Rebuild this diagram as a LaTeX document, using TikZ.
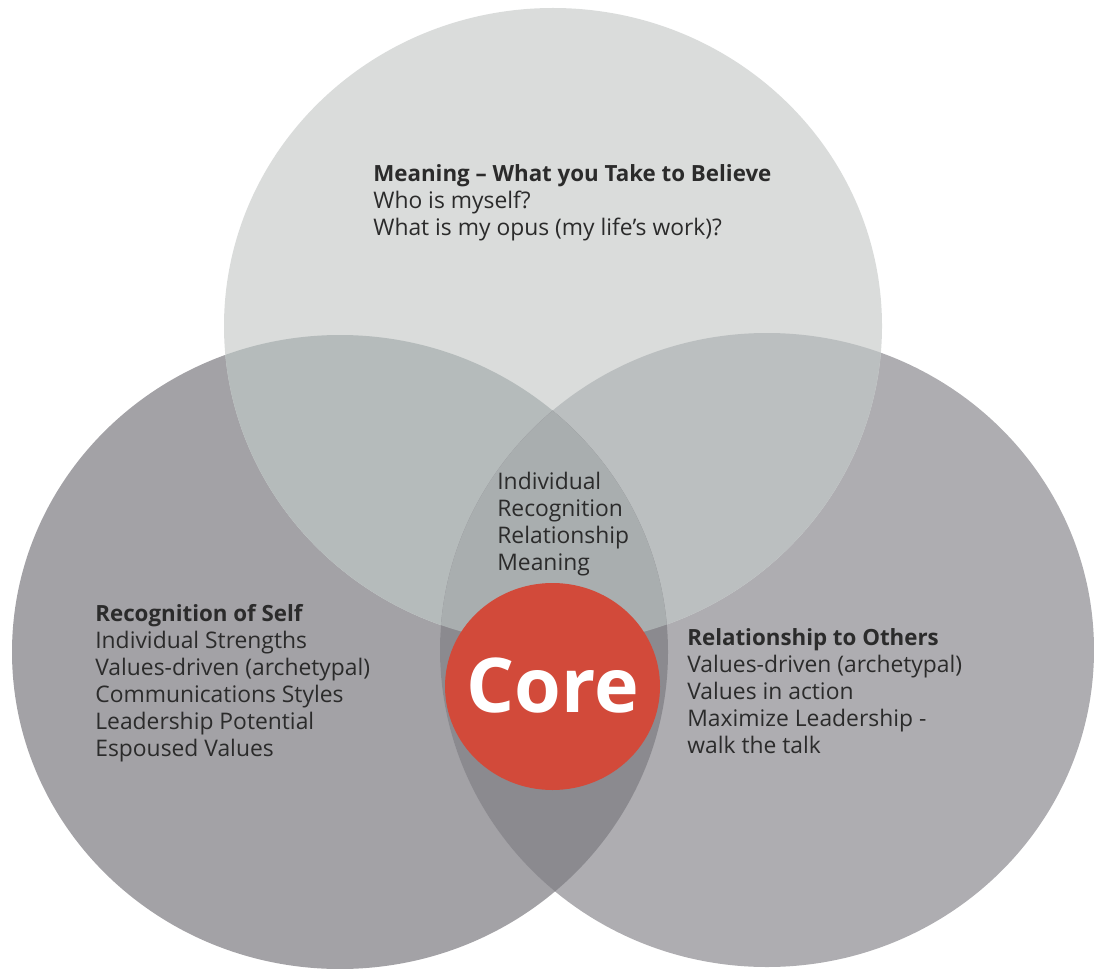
\documentclass[tikz,border=0pt]{standalone}
\usepackage{fontspec}
\setmainfont{Open Sans}
\definecolor{ctop}{HTML}{DADCDB}
\definecolor{cleft}{HTML}{A3A2A6}
\definecolor{cright}{HTML}{AEADB1}
\definecolor{ctl}{HTML}{B5BBBB}
\definecolor{ctr}{HTML}{BBBFC0}
\definecolor{clr}{HTML}{8B8A8F}
\definecolor{call}{HTML}{A9AEAF}
\definecolor{cred}{HTML}{D24A3A}
\definecolor{txt}{HTML}{2B2B2B}
\tikzset{
  lbl/.style={anchor=base west, inner sep=0pt, text=txt, font=\fontsize{13}{15}\selectfont},
  hd/.style={lbl, font=\fontsize{12.7}{15}\selectfont\bfseries},
  topE/.style={insert path={(553,326) ellipse [x radius=329, y radius=318]}},
  leftE/.style={insert path={(340,652) ellipse [x radius=328, y radius=317]}},
  rightE/.style={insert path={(767,650) ellipse [x radius=327, y radius=317]}}
}
\begin{document}
\begin{tikzpicture}[x=0.02cm,y=-0.02cm]
\useasboundingbox (0,0) rectangle (1094,969);
% circles
\fill[cleft] [leftE];
\fill[cright] [rightE];
\fill[ctop] [topE];
% pairwise overlaps
\begin{scope}
  \clip [topE];
  \fill[ctl] [leftE];
  \fill[ctr] [rightE];
\end{scope}
\begin{scope}
  \clip [leftE];
  \fill[clr] [rightE];
\end{scope}
% triple overlap
\begin{scope}
  \clip [topE];
  \clip [leftE];
  \fill[call] [rightE];
\end{scope}
% core
\fill[cred] (552.5,686.5) ellipse [x radius=107.5, y radius=103.5];
\node[anchor=base, inner sep=0pt, text=white, font=\fontsize{43}{43}\selectfont\bfseries] (core) at (553,712) {Core};
% top text
\node[hd] (m1) at (373,182) {Meaning – What you Take to Believe};
\node[lbl] (m2) at (373,209) {Who is myself?};
\node[lbl] (m3) at (373,236) {What is my opus (my life’s work)?};
% center text
\node[lbl] (c1) at (497,489) {Individual};
\node[lbl] (c2) at (497,516) {Recognition};
\node[lbl] (c3) at (497,543) {Relationship};
\node[lbl] (c4) at (497,570) {Meaning};
% left text
\node[hd] (l1) at (95,621) {Recognition of Self};
\node[lbl] (l2) at (95,648) {Individual Strengths};
\node[lbl] (l3) at (95,675) {Values-driven (archetypal)};
\node[lbl] (l4) at (95,702) {Communications Styles};
\node[lbl] (l5) at (95,729) {Leadership Potential};
\node[lbl] (l6) at (95,756) {Espoused Values};
% right text
\node[hd] (r1) at (687,645) {Relationship to Others};
\node[lbl] (r2) at (687,672) {Values-driven (archetypal)};
\node[lbl] (r3) at (687,699) {Values in action};
\node[lbl] (r4) at (687,726) {Maximize Leadership -};
\node[lbl] (r5) at (687,753) {walk the talk};
\end{tikzpicture}
\end{document}
